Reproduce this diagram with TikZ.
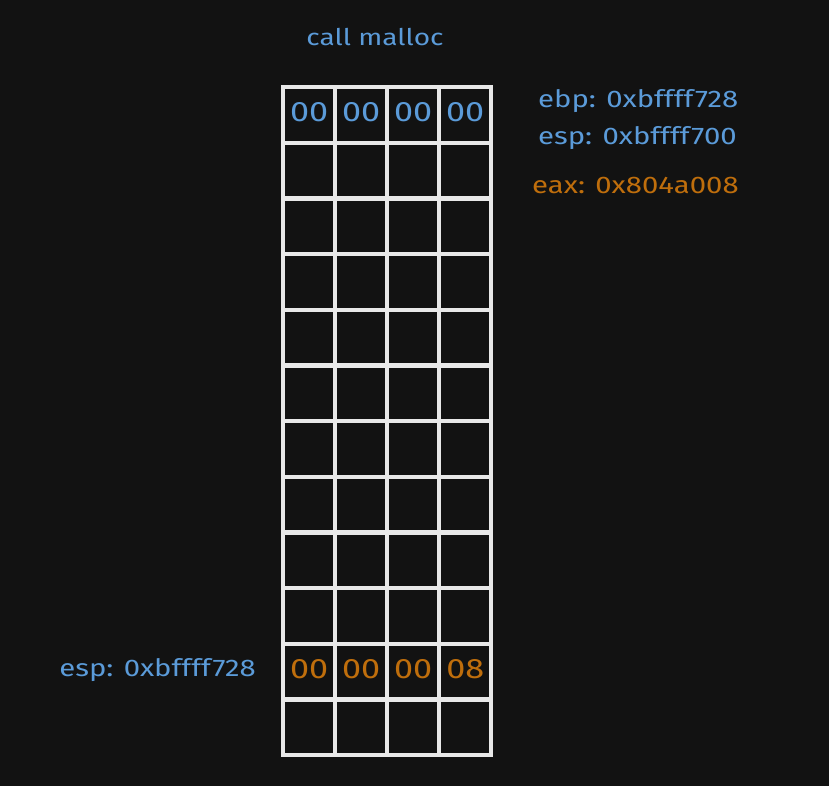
\documentclass[tikz,border=0pt]{standalone}
\usepackage{fontspec}
\setmainfont{Fira Sans}[FakeStretch=1.22]
\definecolor{bg}{HTML}{121212}
\definecolor{ink}{HTML}{E8E8E8}
\definecolor{blu}{HTML}{5B9BD9}
\definecolor{org}{HTML}{BF6E0C}
\begin{document}
\begin{tikzpicture}[x=1pt,y=-1pt,
  cell/.style={draw=ink,line width=4.4pt,minimum width=52pt,minimum height=55.67pt,inner sep=0pt,anchor=north west},
  val/.style={font=\fontsize{28}{30}\selectfont,inner sep=0pt,yshift=3pt},
  lbl/.style={font=\fontsize{24}{28}\selectfont,inner sep=0pt}]
\fill[bg] (0,0) rectangle (829,786);
\useasboundingbox (0,0) rectangle (829,786);
\foreach \r in {0,...,11}{
  \foreach \c in {0,...,3}{
    \node[cell] (c-\r-\c) at ({281+52*\c},{85+55.67*\r}) {};
  }
}
\foreach \c in {0,...,3}{
  \node[val,text=blu] (t0-\c) at (c-0-\c.center) {00};
}
\node[val,text=org] (t10-0) at (c-10-0.center) {00};
\node[val,text=org] (t10-1) at (c-10-1.center) {00};
\node[val,text=org] (t10-2) at (c-10-2.center) {00};
\node[val,text=org] (t10-3) at (c-10-3.center) {08};
\node[lbl,text=blu,font=\fontsize{23}{28}\selectfont] (title) at (375,37) {call malloc};
\node[lbl,text=blu,anchor=west] (ebp) at (538,101) {ebp: 0xbffff728};
\node[lbl,text=blu,anchor=west] (esp1) at (538,138) {esp: 0xbffff700};
\node[lbl,text=org,anchor=west] (eax) at (532,185) {eax: 0x804a008};
\node[lbl,text=blu,anchor=east] (esp2) at (256,670) {esp: 0xbffff728};
\end{tikzpicture}
\end{document}
